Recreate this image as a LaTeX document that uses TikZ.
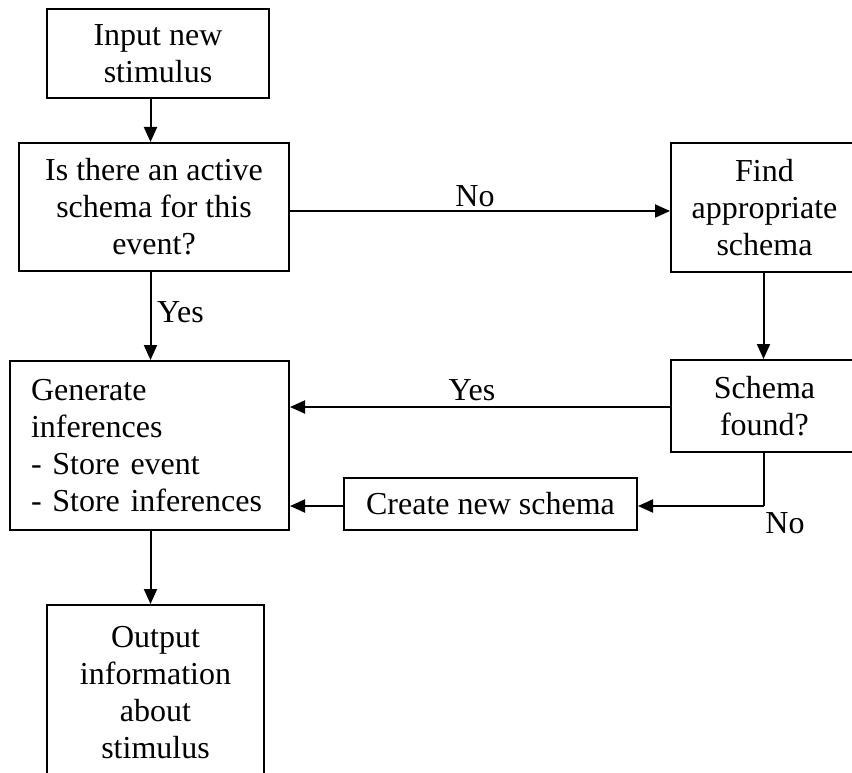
\documentclass[tikz,border=0pt]{standalone}
\usepackage{fontspec}
\setmainfont{Liberation Serif}
\usetikzlibrary{arrows.meta}
\tikzset{
  box/.style={draw, line width=2pt, inner sep=0pt, align=center},
  arr/.style={line width=2pt, -{Triangle[length=15pt,width=13pt]}},
  lnk/.style={line width=2pt},
  lbl/.style={inner sep=0pt}
}
\begin{document}
\begin{tikzpicture}[x=1pt,y=-1pt,font=\fontsize{32}{37}\selectfont]
\useasboundingbox (0,0) rectangle (852,773);
\node[box, minimum width=222pt, minimum height=89pt] (input) at (158,53.5) {Input new\\stimulus};
\node[box, minimum width=270pt, minimum height=128pt] (active) at (154,207) {Is there an active\\schema for this\\event?};
\node[box, minimum width=187pt, minimum height=129pt] (find) at (764.5,207.5) {Find\\appropriate\\schema};
\node[box, minimum width=187pt, minimum height=92pt] (found) at (764.5,406) {Schema\\found?};
\node[box, align=left, text width=237pt, inner xsep=21pt, minimum height=169pt] (gen) at (149.5,445.5) {Generate\\inferences\\- Store event\\- Store inferences};
\node[box, minimum width=293pt, minimum height=52pt] (create) at (490.5,504) {Create new schema};
\node[box, minimum width=217pt, minimum height=175pt] (output) at (155.5,692.5) {Output\\information\\about\\stimulus};
\coordinate (colA) at (150.5,0);
\coordinate (colB) at (763.5,0);
\coordinate (rowNo) at (0,211);
\coordinate (rowYes) at (0,407);
\coordinate (bend) at (763.5,506);
\draw[arr] (input.south -| colA) -- (active.north -| colA);
\draw[arr] (active.south -| colA) -- (gen.north -| colA);
\draw[arr] (gen.south -| colA) -- (output.north -| colA);
\draw[arr] (active.east |- rowNo) -- (find.west |- rowNo);
\draw[arr] (find.south -| colB) -- (found.north -| colB);
\draw[arr] (found.west |- rowYes) -- (gen.east |- rowYes);
\draw[lnk] (found.south -| bend) -- (bend);
\draw[arr] (bend) -- (create.east |- bend);
\draw[arr] (create.west |- bend) -- (gen.east |- bend);
\node[lbl, anchor=west] (lyes1) at (157,312) {Yes};
\node[lbl] (lno1) at (475,196) {No};
\node[lbl] (lyes2) at (472,390) {Yes};
\node[lbl] (lno2) at (785,523) {No};
\end{tikzpicture}
\end{document}
